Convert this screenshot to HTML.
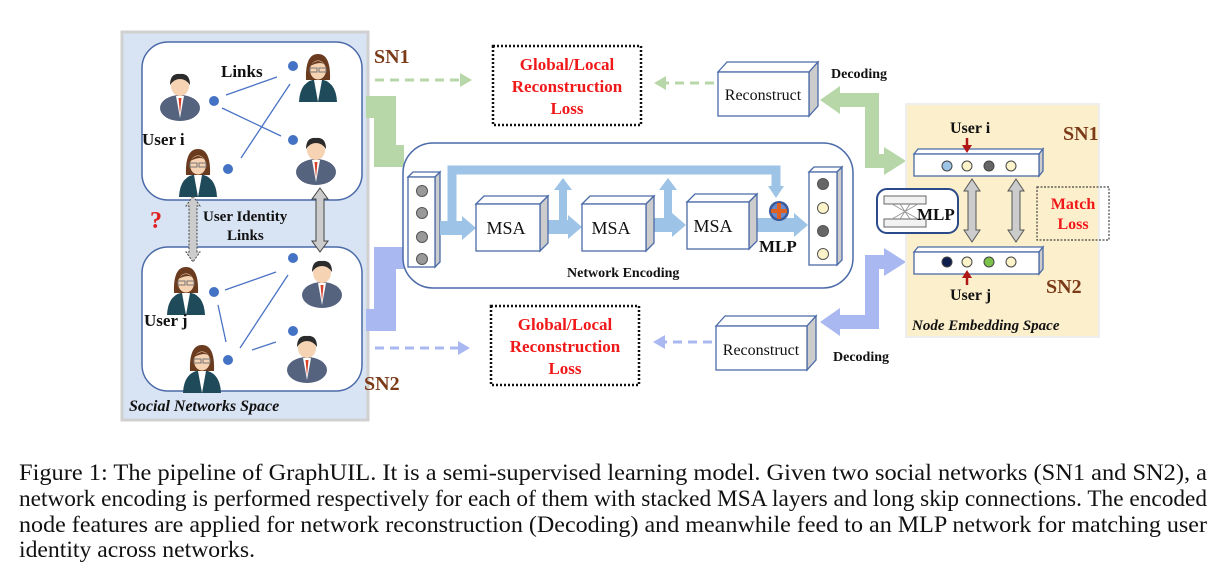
<!DOCTYPE html>
<html><head><meta charset="utf-8"><style>
html,body{margin:0;padding:0;background:#fff;width:1226px;height:574px;overflow:hidden}
svg{display:block}
text{font-family:"Liberation Serif",serif}
</style></head><body>
<svg width="1226" height="574" viewBox="0 0 1226 574" xmlns="http://www.w3.org/2000/svg">
<defs>
<g id="man">
  <ellipse cx="0" cy="20" rx="20" ry="13" fill="#55637f"/>
  <path d="M-4 8 L0 30 L4 8 Z" fill="#fff"/>
  <path d="M-1.5 10 L0 26 L1.5 10 Z" fill="#d9412b"/>
  <ellipse cx="0" cy="-2" rx="9" ry="10" fill="#f5d3b3"/>
  <path d="M-10 -3 Q-10 -15 0 -14 Q10 -15 10 -3 Q6 -9 0 -9 Q-6 -9 -10 -3 Z" fill="#2b2b2b"/>
</g>
<g id="woman">
  <path d="M-19 32 Q-18 10 0 9 Q18 10 19 32 Z" fill="#1e4a5a"/>
  <path d="M-4 10 L0 32 L4 10 Z" fill="#fff"/>
  <path d="M-12 10 Q-13 -16 0 -16 Q13 -16 12 10 Z" fill="#6b3b1f"/>
  <ellipse cx="0" cy="0" rx="8" ry="9.5" fill="#f5d3b3"/>
  <path d="M-8 -4 Q0 -14 8 -4 Q4 -10 -8 -4Z" fill="#6b3b1f"/>
  <rect x="-8" y="-2" width="7" height="4" fill="none" stroke="#777" stroke-width="1"/>
  <rect x="1" y="-2" width="7" height="4" fill="none" stroke="#777" stroke-width="1"/>
</g>
</defs>

<rect x="122" y="32" width="246" height="388" fill="#d8e3f3" stroke="#d0d0d0" stroke-width="3"/>
<rect x="142" y="42" width="220" height="158" rx="26" fill="#fff" stroke="#4a6aa8" stroke-width="1.5"/>
<rect x="142" y="247" width="220" height="144" rx="26" fill="#fff" stroke="#4a6aa8" stroke-width="1.5"/>
<g stroke="#4a72c4" stroke-width="1.3">
<line x1="226" y1="95" x2="277" y2="77"/><line x1="222" y1="108" x2="281" y2="136"/><line x1="241" y1="158" x2="290" y2="84"/>
<line x1="225" y1="290" x2="276" y2="272"/><line x1="218" y1="305" x2="226" y2="342"/><line x1="240" y1="348" x2="288" y2="275"/><line x1="252" y1="350" x2="276" y2="342"/>
</g>
<g fill="#4472c4">
<circle cx="214" cy="101" r="5"/><circle cx="293" cy="66" r="5"/><circle cx="293" cy="140" r="5"/><circle cx="228" cy="169" r="5"/>
<circle cx="293" cy="258" r="5"/><circle cx="214" cy="292" r="5"/><circle cx="293" cy="331" r="5"/><circle cx="228" cy="360" r="5"/>
</g>
<use href="#man" x="180" y="88"/><use href="#woman" x="318" y="70"/><use href="#man" x="316" y="152"/><use href="#woman" x="198" y="165"/>
<use href="#woman" x="186" y="283"/><use href="#man" x="322" y="275"/><use href="#woman" x="202" y="361"/><use href="#man" x="307" y="350"/>
<g font-weight="bold" font-size="17" fill="#111">
<text x="221" y="77">Links</text><text x="142" y="145">User i</text><text x="144" y="326">User j</text>
<text x="203" y="221" font-size="15">User Identity</text><text x="227" y="240" font-size="15">Links</text>
</g>
<text x="150" y="228" font-size="24" font-weight="bold" fill="#e02020">?</text>
<path d="M193 196 L200 206 L197 206 L197 252 L200 252 L193 262 L186 252 L189 252 L189 206 L186 206Z" fill="#ccc" stroke="#444" stroke-dasharray="2 1.5"/>
<path d="M320 188 L328 199 L324 199 L324 241 L328 241 L320 252 L312 241 L316 241 L316 199 L312 199Z" fill="#ccc" stroke="#444"/>
<text x="129" y="411" font-size="16" font-style="italic" font-weight="bold" fill="#111">Social Networks Space</text>

<text x="374" y="63" font-size="20" font-weight="bold" fill="#7b3a18">SN1</text>
<text x="364" y="390" font-size="20" font-weight="bold" fill="#7b3a18">SN2</text>

<polyline points="366,107 385,107 385,156 404,156" fill="none" stroke="#b7d7a8" stroke-width="22"/>
<polyline points="366,320 385,320 385,258 404,258" fill="none" stroke="#a9b8f0" stroke-width="22"/>
<polyline points="838,100 872,100 872,161 885,161" fill="none" stroke="#b7d7a8" stroke-width="14"/>
<path d="M820 100 L840 86 L840 114Z" fill="#b7d7a8"/><path d="M906 161 L884 147 L884 175Z" fill="#b7d7a8"/>
<polyline points="838,322 872,322 872,262 885,262" fill="none" stroke="#a9b8f0" stroke-width="14"/>
<path d="M820 322 L840 308 L840 336Z" fill="#a9b8f0"/><path d="M906 262 L884 248 L884 276Z" fill="#a9b8f0"/>

<line x1="375" y1="80" x2="462" y2="80" stroke="#b7d7a8" stroke-width="3" stroke-dasharray="9 6"/><path d="M472 80 L460 73 L460 87Z" fill="#b7d7a8"/>
<line x1="714" y1="83" x2="664" y2="83" stroke="#b7d7a8" stroke-width="3" stroke-dasharray="9 6"/><path d="M654 83 L666 76 L666 90Z" fill="#b7d7a8"/>
<line x1="375" y1="348" x2="458" y2="348" stroke="#a9b8f0" stroke-width="3" stroke-dasharray="9 6"/><path d="M470 348 L458 341 L458 355Z" fill="#a9b8f0"/>
<line x1="712" y1="342" x2="664" y2="342" stroke="#a9b8f0" stroke-width="3" stroke-dasharray="9 6"/><path d="M653 342 L665 335 L665 349Z" fill="#a9b8f0"/>

<rect x="493" y="46" width="148" height="79" fill="#fff" stroke="#111" stroke-width="2.5" stroke-dasharray="2 2"/>
<g font-weight="bold" font-size="17" fill="#f01818" text-anchor="middle">
<text x="567" y="70">Global/Local</text><text x="567" y="92">Reconstruction</text><text x="567" y="114">Loss</text>
</g>
<rect x="491" y="306" width="148" height="79" fill="#fff" stroke="#111" stroke-width="2.5" stroke-dasharray="2 2"/>
<g font-weight="bold" font-size="17" fill="#f01818" text-anchor="middle">
<text x="565" y="330">Global/Local</text><text x="565" y="352">Reconstruction</text><text x="565" y="374">Loss</text>
</g>

<g stroke="#4a6aa8" stroke-width="1.3">
<path d="M718 72 L727 62 L818 62 L809 72Z" fill="#fff"/><path d="M809 72 L818 62 L818 106 L809 116Z" fill="#ccc"/>
<rect x="718" y="72" width="91" height="44" fill="#fff"/>
<path d="M716 326 L725 316 L816 316 L807 326Z" fill="#fff"/><path d="M807 326 L816 316 L816 360 L807 370Z" fill="#ccc"/>
<rect x="716" y="326" width="91" height="44" fill="#fff"/>
</g>
<text x="763" y="100" font-size="16" text-anchor="middle" fill="#111">Reconstruct</text>
<text x="761" y="355" font-size="16" text-anchor="middle" fill="#111">Reconstruct</text>
<text x="831" y="78" font-size="14" font-weight="bold" fill="#111">Decoding</text>
<text x="833" y="361" font-size="14" font-weight="bold" fill="#111">Decoding</text>

<rect x="403" y="143" width="450" height="145" rx="30" fill="#fff" stroke="#4a6aa8" stroke-width="1.5"/>
<g stroke="#4a6aa8" stroke-width="1.3">
<path d="M408 177 L413 172 L440 172 L435 177Z" fill="#fff"/><path d="M435 177 L440 172 L440 262 L435 267Z" fill="#ccc"/>
<rect x="408" y="177" width="27" height="90" fill="#fff"/>
</g>
<g fill="#999" stroke="#555"><circle cx="422" cy="191" r="5.5"/><circle cx="422" cy="213" r="5.5"/><circle cx="422" cy="237" r="5.5"/><circle cx="422" cy="259" r="5.5"/></g>
<polyline points="452,228 452,170 776,170 776,188" fill="none" stroke="#9dc3e6" stroke-width="9"/>
<path d="M776 198 L768 186 L784 186Z" fill="#9dc3e6"/>
<line x1="440" y1="228" x2="464" y2="228" stroke="#9dc3e6" stroke-width="14"/><path d="M476 228 L462 216 L462 240Z" fill="#9dc3e6"/>
<line x1="543" y1="227" x2="570" y2="227" stroke="#9dc3e6" stroke-width="14"/><path d="M582 227 L568 215 L568 239Z" fill="#9dc3e6"/>
<line x1="648" y1="225" x2="674" y2="225" stroke="#9dc3e6" stroke-width="14"/><path d="M686 225 L672 213 L672 237Z" fill="#9dc3e6"/>
<line x1="752" y1="225" x2="796" y2="225" stroke="#9dc3e6" stroke-width="14"/><path d="M808 225 L794 213 L794 237Z" fill="#9dc3e6"/>
<line x1="563" y1="222" x2="563" y2="186" stroke="#9dc3e6" stroke-width="8"/><path d="M563 178 L554 190 L572 190Z" fill="#9dc3e6"/>
<line x1="668" y1="220" x2="668" y2="186" stroke="#9dc3e6" stroke-width="8"/><path d="M668 178 L659 190 L677 190Z" fill="#9dc3e6"/>
<g stroke="#4a6aa8" stroke-width="1.3">
<path d="M476 204 L484 196 L548 196 L540 204Z" fill="#fff"/><path d="M540 204 L548 196 L548 243 L540 251Z" fill="#ccc"/><rect x="476" y="204" width="64" height="47" fill="#fff"/>
<path d="M582 204 L590 196 L654 196 L646 204Z" fill="#fff"/><path d="M646 204 L654 196 L654 243 L646 251Z" fill="#ccc"/><rect x="582" y="204" width="64" height="47" fill="#fff"/>
<path d="M687 202 L695 194 L757 194 L749 202Z" fill="#fff"/><path d="M749 202 L757 194 L757 241 L749 249Z" fill="#ccc"/><rect x="687" y="202" width="62" height="47" fill="#fff"/>
</g>
<g font-size="18" fill="#111" text-anchor="middle"><text x="506" y="234">MSA</text><text x="611" y="234">MSA</text><text x="713" y="232">MSA</text></g>
<circle cx="779" cy="211" r="10" fill="#3a5a9a"/><circle cx="779" cy="211" r="7.5" fill="#6a8acc"/>
<path d="M777 203 h4 v6 h6 v4 h-6 v6 h-4 v-6 h-6 v-4 h6Z" fill="#e06020"/>
<text x="759" y="252" font-size="17" font-weight="bold" fill="#111">MLP</text>
<text x="567" y="277" font-size="14" font-weight="bold" fill="#111">Network Encoding</text>
<g stroke="#4a6aa8" stroke-width="1.3">
<path d="M809 172 L814 167 L842 167 L837 172Z" fill="#fff"/><path d="M837 172 L842 167 L842 260 L837 265Z" fill="#ccc"/>
<rect x="809" y="172" width="28" height="93" fill="#fff"/>
</g>
<g stroke="#555"><circle cx="823" cy="184" r="5.5" fill="#666"/><circle cx="823" cy="208" r="5.5" fill="#fdf3c8"/><circle cx="823" cy="231" r="5.5" fill="#666"/><circle cx="823" cy="254" r="5.5" fill="#fdf3c8"/></g>

<rect x="906" y="104" width="193" height="233" fill="#fcefcb" stroke="#eee" stroke-width="2"/>
<text x="1063" y="140" font-size="20" font-weight="bold" fill="#7b3a18">SN1</text>
<text x="1046" y="293" font-size="20" font-weight="bold" fill="#7b3a18">SN2</text>
<text x="950" y="133" font-size="16" font-weight="bold" fill="#111">User i</text>
<text x="950" y="300" font-size="16" font-weight="bold" fill="#111">User j</text>
<g stroke="#4a6aa8" stroke-width="1.3">
<path d="M914 154 L918 149 L1043 149 L1039 154Z" fill="#fff"/><path d="M1039 154 L1043 149 L1043 171 L1039 176Z" fill="#ccc"/><rect x="914" y="154" width="125" height="22" fill="#fff"/>
<path d="M914 252 L918 247 L1043 247 L1039 252Z" fill="#fff"/><path d="M1039 252 L1043 247 L1043 269 L1039 274Z" fill="#ccc"/><rect x="914" y="252" width="125" height="22" fill="#fff"/>
</g>
<g stroke="#444"><circle cx="947" cy="166" r="5" fill="#9dc3e6"/><circle cx="967" cy="166" r="5" fill="#fdf3c8"/><circle cx="989" cy="166" r="5" fill="#666"/><circle cx="1011" cy="166" r="5" fill="#fdf3c8"/>
<circle cx="947" cy="262" r="5" fill="#0d1e4e"/><circle cx="967" cy="262" r="5" fill="#fdf3c8"/><circle cx="989" cy="262" r="5" fill="#7cc14a"/><circle cx="1011" cy="262" r="5" fill="#fdf3c8"/></g>
<line x1="967" y1="138" x2="967" y2="147" stroke="#b01818" stroke-width="2.5"/><path d="M967 153 L962 145 L972 145Z" fill="#b01818"/>
<line x1="967" y1="285" x2="967" y2="276" stroke="#b01818" stroke-width="2.5"/><path d="M967 270 L962 278 L972 278Z" fill="#b01818"/>
<path d="M972 179 L980 191 L976 191 L976 230 L980 230 L972 242 L964 230 L968 230 L968 191 L964 191Z" fill="#ccc" stroke="#555"/>
<path d="M1016 179 L1024 191 L1020 191 L1020 230 L1024 230 L1016 242 L1008 230 L1012 230 L1012 191 L1008 191Z" fill="#ccc" stroke="#555"/>
<rect x="1037" y="187" width="72" height="53" fill="none" stroke="#444" stroke-width="1.2" stroke-dasharray="2 1.5"/>
<text x="1073" y="209" font-size="16" font-weight="bold" fill="#f01818" text-anchor="middle">Match</text>
<text x="1073" y="229" font-size="16" font-weight="bold" fill="#f01818" text-anchor="middle">Loss</text>
<rect x="877" y="189" width="81" height="44" rx="10" fill="#fff" stroke="#2a4a8a" stroke-width="2"/>
<g stroke="#666" fill="#f2f2f2"><rect x="884" y="196" width="42" height="8"/><rect x="884" y="219" width="42" height="8"/></g>
<path d="M892 204 L918 219 M918 204 L892 219 M900 204 L910 219 M910 204 L900 219" stroke="#999"/>
<text x="917" y="220" font-size="17" font-weight="bold" fill="#111">MLP</text>
<text x="912" y="330" font-size="15" font-style="italic" font-weight="bold" fill="#111">Node Embedding Space</text>

<g font-size="23" fill="#111">
<text x="19" y="480" textLength="1188" lengthAdjust="spacingAndGlyphs">Figure 1: The pipeline of GraphUIL. It is a semi-supervised learning model. Given two social networks (SN1 and SN2), a</text>
<text x="19" y="506" textLength="1188" lengthAdjust="spacingAndGlyphs">network encoding is performed respectively for each of them with stacked MSA layers and long skip connections. The encoded</text>
<text x="19" y="532" textLength="1188" lengthAdjust="spacingAndGlyphs">node features are applied for network reconstruction (Decoding) and meanwhile feed to an MLP network for matching user</text>
<text x="19" y="557" textLength="236" lengthAdjust="spacingAndGlyphs">identity across networks.</text>
</g>
</svg>
</body></html>
